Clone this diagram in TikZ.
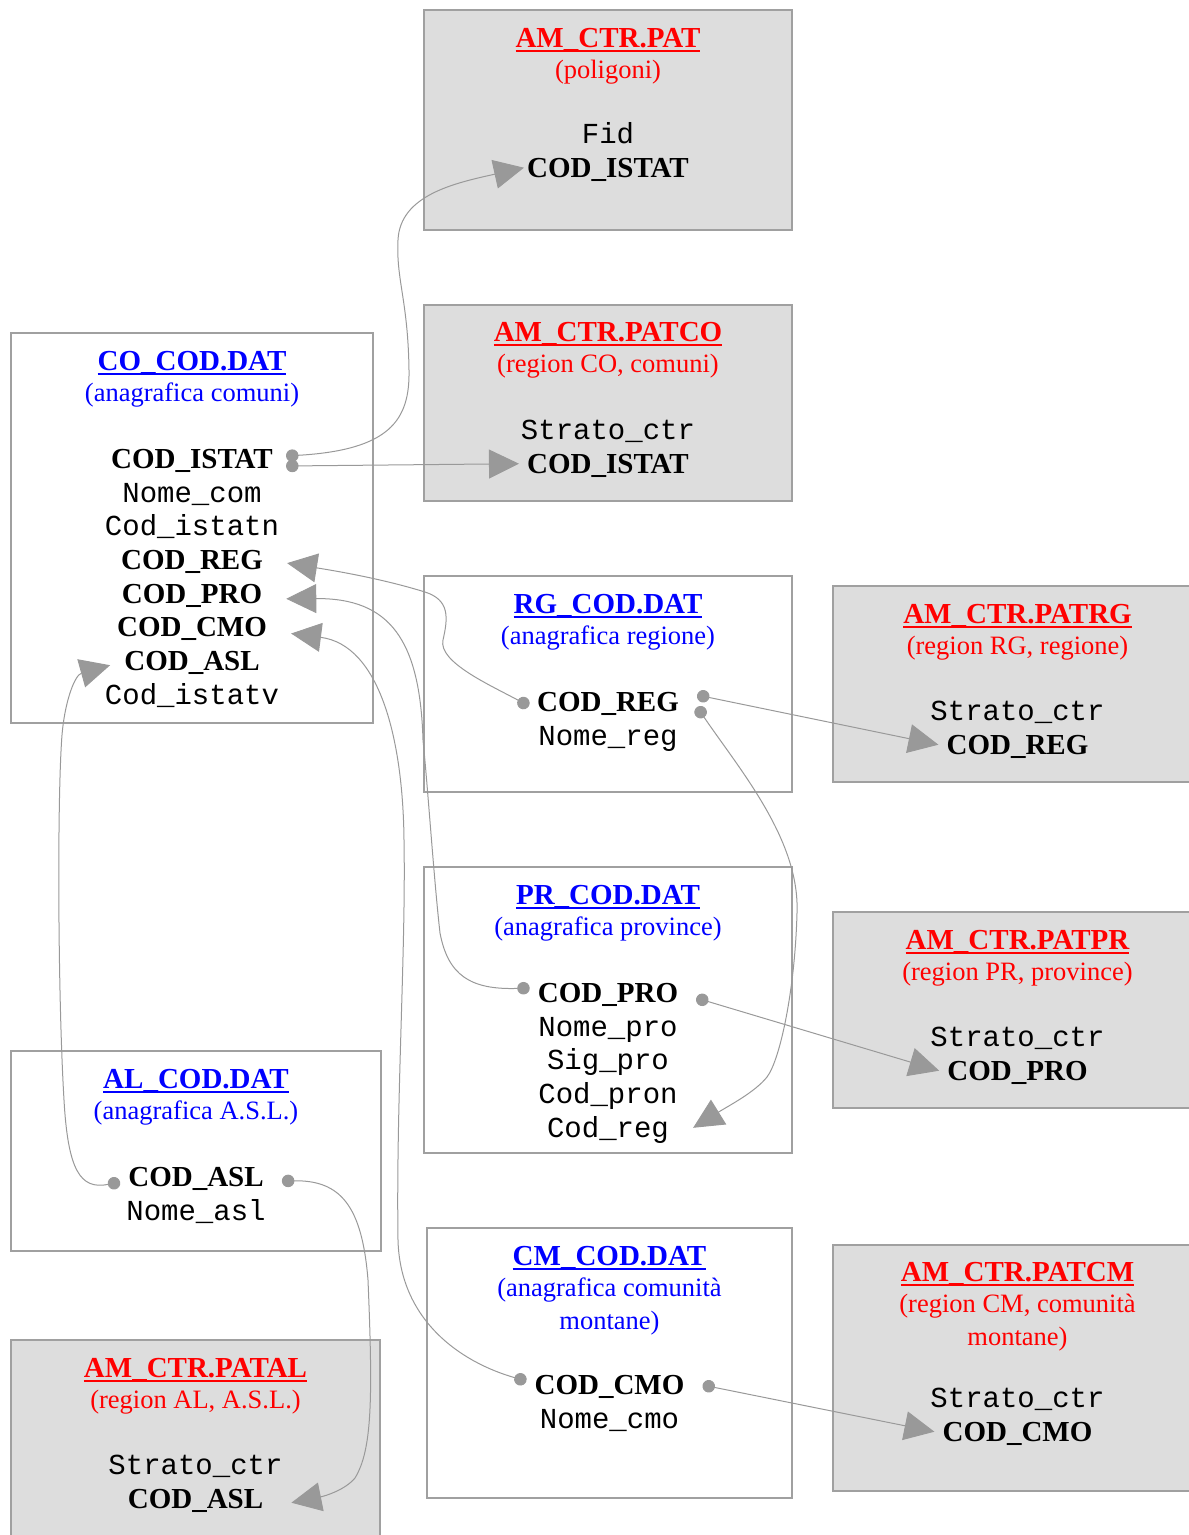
\documentclass[tikz,border=0pt]{standalone}
\usepackage{fontspec}
\setmainfont{Liberation Serif}
\setmonofont{Liberation Mono}
\usetikzlibrary{positioning,fit,arrows.meta}

\definecolor{boxgray}{HTML}{DDDDDD}
\definecolor{edgegray}{HTML}{A0A0A0}
\definecolor{linkgray}{HTML}{999999}
\definecolor{datblue}{HTML}{0000FF}
\definecolor{patred}{HTML}{FF0000}

\newcommand{\tblname}[1]{\sbox0{#1}\rlap{\usebox0}\rule[-4.8pt]{\wd0}{2.6pt}}

\begin{document}
\begin{tikzpicture}[x=1pt,y=-1pt]
		\tikzset{datbox/.style={draw=edgegray,
								line width=1.5pt,
								inner sep=0pt},
				 patbox/.style={datbox,
								fill=boxgray},
				 fieldrow/.style={inner xsep=8pt,
								  inner ysep=0pt,
								  text height=26pt,
								  text depth=7.3pt},
				 tabtitle/.style={fieldrow,
								  font=\fontsize{29}{33}\selectfont\bfseries},
				 subline/.style={inner sep=0pt,
								 text height=23.5pt,
								 text depth=9.5pt,
								 font=\fontsize{26.5}{31}\selectfont},
				 pkey/.style={fieldrow,
							  font=\fontsize{29}{33}\selectfont\bfseries},
				 attr/.style={fieldrow,
							  font=\fontsize{29}{33}\selectfont\ttfamily},
				 link/.style={draw=linkgray,
							  line width=1pt,
							  {Circle[length=12.5pt]}-{Triangle[length=30pt,width=29pt]}}}
		\useasboundingbox (0,0) rectangle (1189,1535);

		% Boxes
		\node[patbox, fit={(424,10) (792,230)}] (pat) {};
		\node[patbox, fit={(424,305) (792,501)}] (patco) {};
		\node[datbox, fit={(11,333) (373,723)}] (co) {};
		\node[datbox, fit={(424,576) (792,792)}] (rg) {};
		\node[patbox, fit={(833,586) (1203,782)}] (patrg) {};
		\node[datbox, fit={(424,867) (792,1153)}] (pr) {};
		\node[patbox, fit={(833,912) (1203,1108)}] (patpr) {};
		\node[datbox, fit={(11,1051) (381,1251)}] (al) {};
		\node[patbox, fit={(11,1340) (380,1550)}] (patal) {};
		\node[datbox, fit={(427,1228) (792,1498)}] (cm) {};
		\node[patbox, fit={(833,1245) (1203,1491)}] (patcm) {};

		% Nodes
		\node[tabtitle, text=patred] (pattitle) at (608,38) {\tblname{AM\_CTR.PAT}};
		\node[subline, text=patred, below=0pt of pattitle] (patsub) {(poligoni)};
		\node[attr] (patfid) at (608,134) {Fid};
		\node[pkey, below=0pt of patfid] (patistat) {COD\_ISTAT};

		\node[tabtitle, text=patred] (patcotitle) at (608,332) {\tblname{AM\_CTR.PATCO}};
		\node[subline, text=patred, below=0pt of patcotitle] (patcosub) {(region CO, comuni)};
		\node[attr] (patcostrato) at (608,430) {Strato\_ctr};
		\node[pkey, below=0pt of patcostrato] (patcoistat) {COD\_ISTAT};

		\node[tabtitle, text=datblue] (cotitle) at (192,361) {\tblname{CO\_COD.DAT}};
		\node[subline, text=datblue, below=0pt of cotitle] (cosub) {(anagrafica comuni)};
		\node[pkey] (coistat) at (192,459) {COD\_ISTAT};
		\node[attr, below=0pt of coistat] (conome) {Nome\_com};
		\node[attr, below=0pt of conome] (coistatn) {Cod\_istatn};
		\node[pkey, below=0pt of coistatn] (coreg) {COD\_REG};
		\node[pkey, below=0pt of coreg] (copro) {COD\_PRO};
		\node[pkey, below=0pt of copro] (cocmo) {COD\_CMO};
		\node[pkey, below=0pt of cocmo] (coasl) {COD\_ASL};
		\node[attr, below=0pt of coasl] (coistatv) {Cod\_istatv};

		\node[tabtitle, text=datblue] (rgtitle) at (608,604) {\tblname{RG\_COD.DAT}};
		\node[subline, text=datblue, below=0pt of rgtitle] (rgsub) {(anagrafica regione)};
		\node[pkey] (rgreg) at (608,702) {COD\_REG};
		\node[attr, below=0pt of rgreg] (rgnome) {Nome\_reg};

		\node[tabtitle, text=patred] (patrgtitle) at (1017.5,614) {\tblname{AM\_CTR.PATRG}};
		\node[subline, text=patred, below=0pt of patrgtitle] (patrgsub) {(region RG, regione)};
		\node[attr] (patrgstrato) at (1017.5,711) {Strato\_ctr};
		\node[pkey, below=0pt of patrgstrato] (patrgreg) {COD\_REG};

		\node[tabtitle, text=datblue] (prtitle) at (608,895) {\tblname{PR\_COD.DAT}};
		\node[subline, text=datblue, below=0pt of prtitle] (prsub) {(anagrafica province)};
		\node[pkey] (prpro) at (608,993) {COD\_PRO};
		\node[attr, below=0pt of prpro] (prnome) {Nome\_pro};
		\node[attr, below=0pt of prnome] (prsig) {Sig\_pro};
		\node[attr, below=0pt of prsig] (prpron) {Cod\_pron};
		\node[attr, below=0pt of prpron] (prreg) {Cod\_reg};

		\node[tabtitle, text=patred] (patprtitle) at (1017.5,940) {\tblname{AM\_CTR.PATPR}};
		\node[subline, text=patred, below=0pt of patprtitle] (patprsub) {(region PR, province)};
		\node[attr] (patprstrato) at (1017.5,1037) {Strato\_ctr};
		\node[pkey, below=0pt of patprstrato] (patprpro) {COD\_PRO};

		\node[tabtitle, text=datblue] (altitle) at (196,1079) {\tblname{AL\_COD.DAT}};
		\node[subline, text=datblue, below=0pt of altitle] (alsub) {(anagrafica A.S.L.)};
		\node[pkey] (alasl) at (196,1177) {COD\_ASL};
		\node[attr, below=0pt of alasl] (alnome) {Nome\_asl};

		\node[tabtitle, text=patred] (pataltitle) at (195.5,1368) {\tblname{AM\_CTR.PATAL}};
		\node[subline, text=patred, below=0pt of pataltitle] (patalsub) {(region AL, A.S.L.)};
		\node[attr] (patalstrato) at (195.5,1465) {Strato\_ctr};
		\node[pkey, below=0pt of patalstrato] (patalasl) {COD\_ASL};

		\node[tabtitle, text=datblue] (cmtitle) at (609.5,1256) {\tblname{CM\_COD.DAT}};
		\node[subline, text=datblue, below=0pt of cmtitle] (cmsub) {(anagrafica comunità};
		\node[subline, text=datblue, below=0pt of cmsub] (cmsubb) {montane)};
		\node[pkey] (cmcmo) at (609.5,1385) {COD\_CMO};
		\node[attr, below=0pt of cmcmo] (cmnome) {Nome\_cmo};

		\node[tabtitle, text=patred] (patcmtitle) at (1017.5,1272) {\tblname{AM\_CTR.PATCM}};
		\node[subline, text=patred, below=0pt of patcmtitle] (patcmsub) {(region CM, comunità};
		\node[subline, text=patred, below=0pt of patcmsub] (patcmsubb) {montane)};
		\node[attr] (patcmstrato) at (1017.5,1398) {Strato\_ctr};
		\node[pkey, below=0pt of patcmstrato] (patcmcmo) {COD\_CMO};

		% Arrows
		\draw[link] ([xshift=5pt,yshift=3pt]coistat.east) .. controls (390,450) and (410,420) .. (409,370)
			.. controls (408,300) and (396,280) .. (398,240)
			.. controls (400,195) and (455,183) .. ([xshift=5pt]patistat.west);
		\draw[link] ([xshift=5pt,yshift=-7pt]coistat.east) -- (patcoistat.west);
		\draw[link] ([yshift=-4pt]rgreg.west) .. controls (490,685) and (438,662) .. (443,640)
			.. controls (448,618) and (450,600) .. (425,592)
			.. controls (380,578) and (330,570) .. ([xshift=16pt,yshift=-3pt]coreg.east);
		\draw[link] ([xshift=10pt,yshift=7pt]rgreg.east) -- (patrgreg.west);
		\draw[link] ([xshift=10pt,yshift=-5pt]rgreg.east) .. controls (740,770) and (800,840) .. (797,913)
			.. controls (795,990) and (780,1060) .. (767,1077)
			.. controls (755,1092) and (730,1105) .. ([xshift=16pt]prreg.east);
		\draw[link] ([yshift=5pt]prpro.west) .. controls (470,990) and (448,975) .. (440,933)
			.. controls (434,880) and (428,790) .. (423,740)
			.. controls (420,640) and (390,598) .. ([xshift=16pt,yshift=-5pt]copro.east);
		\draw[link] ([xshift=10pt,yshift=-5pt]prpro.east) -- (patprpro.west);
		\draw[link] ([yshift=-5pt]alasl.west) .. controls (80,1190) and (68,1170) .. (64,1100)
			.. controls (58,1000) and (57,800) .. (62,735)
			.. controls (65,700) and (75,675) .. ([xshift=-6pt,yshift=-4pt]coasl.west);
		\draw[link] ([xshift=10pt,yshift=-4pt]alasl.east) .. controls (340,1180) and (362,1205) .. (368,1280)
			.. controls (373,1400) and (372,1450) .. (355,1478)
			.. controls (345,1490) and (325,1496) .. ([xshift=20pt,yshift=-4pt]patalasl.east);
		\draw[link] ([yshift=4pt]cmcmo.west) .. controls (460,1362) and (400,1320) .. (398,1240)
			.. controls (396,1100) and (406,950) .. (404,840)
			.. controls (403,740) and (380,645) .. ([xshift=16pt,yshift=-6pt]cocmo.east);
		\draw[link] ([xshift=10pt]cmcmo.east) -- (patcmcmo.west);
	\end{tikzpicture}
\end{document}
